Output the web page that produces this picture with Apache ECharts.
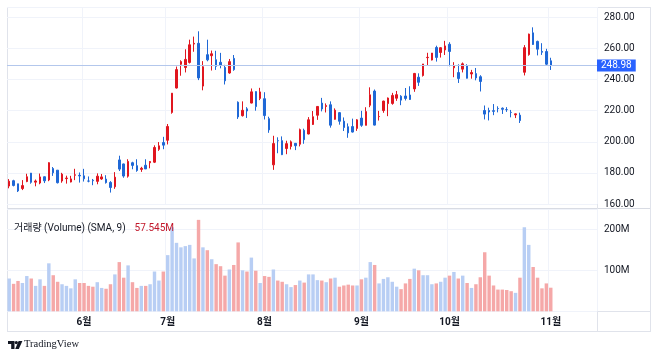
<!DOCTYPE html>
<html>
<head>
<meta charset="utf-8">
<script src="https://cdn.jsdelivr.net/npm/echarts@6/dist/echarts.min.js"></script>
<style>
html,body{margin:0;padding:0;background:#fff;}
#chart{width:658px;height:358px;}
</style>
</head>
<body>
<div id="chart"></div>
<script>
const dates = [
'2024-05-08','2024-05-09','2024-05-10','2024-05-13','2024-05-14','2024-05-15','2024-05-16','2024-05-17','2024-05-20','2024-05-21','2024-05-22','2024-05-23','2024-05-24','2024-05-28','2024-05-29','2024-05-30','2024-05-31',
'2024-06-03','2024-06-04','2024-06-05','2024-06-06','2024-06-07','2024-06-10','2024-06-11','2024-06-12','2024-06-13','2024-06-14','2024-06-17','2024-06-18','2024-06-20','2024-06-21','2024-06-24','2024-06-25','2024-06-26','2024-06-27','2024-06-28',
'2024-07-01','2024-07-02','2024-07-03','2024-07-05','2024-07-08','2024-07-09','2024-07-10','2024-07-11','2024-07-12','2024-07-15','2024-07-16','2024-07-17','2024-07-18','2024-07-19','2024-07-22','2024-07-23','2024-07-24','2024-07-25','2024-07-26','2024-07-29','2024-07-30','2024-07-31',
'2024-08-01','2024-08-02','2024-08-05','2024-08-06','2024-08-07','2024-08-08','2024-08-09','2024-08-12','2024-08-13','2024-08-14','2024-08-15','2024-08-16','2024-08-19','2024-08-20','2024-08-21','2024-08-22','2024-08-23','2024-08-26','2024-08-27','2024-08-28','2024-08-29','2024-08-30',
'2024-09-03','2024-09-04','2024-09-05','2024-09-06','2024-09-09','2024-09-10','2024-09-11','2024-09-12','2024-09-13','2024-09-16','2024-09-17','2024-09-18','2024-09-19','2024-09-20','2024-09-23','2024-09-24','2024-09-25','2024-09-26','2024-09-27','2024-09-30',
'2024-10-01','2024-10-02','2024-10-03','2024-10-04','2024-10-07','2024-10-08','2024-10-09','2024-10-10','2024-10-11','2024-10-14','2024-10-15','2024-10-16','2024-10-17','2024-10-18','2024-10-21','2024-10-22','2024-10-23','2024-10-24','2024-10-25','2024-10-28','2024-10-29','2024-10-30','2024-10-31',
'2024-11-01'
];
const opens = [
171.59,175.01,173.05,170.00,174.50,179.90,174.10,173.55,177.56,175.51,182.85,181.80,174.84,176.40,174.19,178.58,178.50,
178.13,174.78,175.35,174.60,176.13,176.06,173.92,171.12,188.39,185.80,177.92,186.56,184.68,182.30,184.97,186.54,186.92,195.17,199.55,
201.02,218.89,234.56,249.81,247.71,251.00,262.80,263.30,235.80,255.97,255.31,252.73,251.09,247.79,244.21,253.60,225.42,216.80,221.19,224.90,232.25,227.90,
227.69,214.88,185.22,200.75,200.77,195.70,197.05,199.02,198.47,207.39,205.02,211.15,217.07,224.88,222.67,223.82,214.46,218.75,213.25,209.72,209.80,208.63,
215.26,210.59,223.49,232.60,216.20,220.07,224.55,224.66,228.00,229.30,229.45,230.09,234.00,241.52,242.61,254.08,252.54,260.60,257.38,259.04,
262.67,247.55,244.48,246.69,249.00,243.56,243.82,241.81,220.13,220.13,220.01,221.40,221.59,220.71,218.90,217.31,217.13,244.68,256.01,270.00,264.51,258.04,257.99,
252.04
];
const highs = [
176.06,175.62,173.06,175.40,179.49,180.00,175.79,179.63,177.75,186.88,183.80,181.90,180.08,178.25,178.15,182.67,180.32,
182.64,177.76,176.15,179.73,179.35,178.57,174.75,180.55,191.08,186.00,188.81,187.20,188.80,183.95,188.80,187.60,197.76,199.84,203.20,
211.45,231.30,248.35,252.37,259.44,265.61,267.59,271.00,251.84,265.60,258.62,258.47,257.14,249.44,253.21,255.76,225.99,226.00,222.28,234.27,232.41,234.68,
231.87,216.13,203.88,202.90,203.49,200.70,200.88,199.26,208.49,208.44,215.88,219.80,222.98,228.22,224.66,225.99,221.48,219.09,215.66,211.84,214.89,214.57,
219.90,222.22,235.00,233.60,219.87,226.40,228.47,231.45,232.67,229.96,234.57,235.68,244.24,243.99,250.00,257.19,257.05,261.75,260.70,264.86,
263.98,251.16,249.79,250.96,249.83,246.21,247.43,242.79,223.34,221.91,224.26,222.82,222.08,222.28,220.48,218.22,218.72,262.12,269.49,273.54,264.98,263.35,259.75,
254.00
];
const lows = [
170.15,171.37,167.75,169.00,174.07,173.11,171.43,172.75,173.52,174.71,178.12,173.26,173.73,173.16,173.93,175.38,173.82,
174.49,174.00,172.13,172.73,175.58,173.17,167.41,169.80,181.23,176.92,177.00,182.37,180.76,180.69,182.55,182.99,186.36,194.20,195.26,
198.32,218.06,234.25,242.46,244.57,250.30,257.86,239.65,233.09,251.73,245.80,246.18,247.20,236.83,243.75,245.63,214.71,216.23,215.33,224.70,220.00,226.79,
214.33,205.78,182.00,192.67,191.48,192.04,195.11,194.67,197.06,198.75,204.82,210.80,214.09,219.56,218.86,209.11,214.21,211.01,206.94,202.59,205.97,207.03,
209.64,210.57,222.25,210.51,213.67,218.64,216.48,223.83,226.32,223.53,226.55,226.88,232.13,235.92,241.92,249.05,252.28,251.53,254.12,255.77,
248.53,241.50,237.81,244.58,240.70,240.56,239.51,232.34,214.38,213.74,217.12,218.93,217.90,219.23,215.73,215.26,212.11,242.65,255.32,262.24,255.51,255.82,249.25,
246.16
];
const closes = [
174.72,171.97,168.47,171.89,177.55,173.99,174.84,177.46,174.95,186.60,180.11,173.74,179.24,176.75,176.19,178.79,178.08,
176.29,174.77,175.00,177.94,177.48,173.79,170.66,177.29,182.47,178.01,187.44,184.86,181.57,183.01,182.58,187.35,196.37,197.42,197.88,
209.86,231.26,246.39,251.52,252.94,262.33,263.26,241.03,248.23,252.64,256.56,248.50,249.23,239.20,251.51,246.38,215.99,220.25,219.80,232.10,222.62,232.07,
216.86,207.67,198.88,200.64,191.76,198.84,200.00,197.49,207.83,201.38,214.14,216.12,222.72,221.10,223.27,210.66,220.32,213.21,209.21,205.75,206.28,214.11,
210.60,219.41,230.17,210.73,216.27,226.17,228.13,229.81,230.29,226.78,227.87,227.20,243.92,238.25,250.00,254.27,257.02,254.22,260.46,261.63,
258.02,249.02,240.66,250.08,240.83,244.50,241.05,238.77,217.80,219.16,219.57,221.33,220.89,220.70,218.85,217.97,213.65,260.48,269.19,262.51,259.52,257.55,249.85,
248.98
];
// volume in millions
const volumes = [
80,67,74,69,86,80,62,78,62,117,88,72,66,62,56,78,69,
69,62,60,71,57,55,66,90,120,82,112,71,57,62,62,66,97,75,97,
137,205,167,156,159,162,129,223,156,149,127,115,110,87,102,113,168,100,97,131,99,69,
86,84,102,75,72,66,59,64,75,70,90,90,76,75,71,80,82,60,63,65,63,63,
78,82,120,113,68,79,83,72,60,54,68,79,104,100,88,88,66,68,72,82,
87,96,80,87,69,57,66,83,144,87,63,53,53,52,49,45,82,205,162,108,82,56,68,
57.545
];
const priceTicks = [160,180,200,220,240,260,280];
const volumeTicks = [100,200];
const lastPrice = 248.98;
const lastVolume = 57.545;
const padBars = 10;

const categories = dates.concat(Array.from({length: padBars}, (_, k) => 'pad' + k));
const monthStart = new Set();
dates.forEach((d, i) => { if (i > 0 && d.slice(5,7) !== dates[i-1].slice(5,7)) monthStart.add(i); });
const candleData = dates.map((d, i) => [opens[i], closes[i], lows[i], highs[i]]);
const UP = '#e0161f', DOWN = '#1f68d6';
const VOL_UP = '#b8cef4', VOL_DOWN = '#f5a8a8';
const volData = volumes.map((v, i) => ({
  value: v,
  itemStyle: { color: closes[i] >= opens[i] ? VOL_UP : VOL_DOWN }
}));

const FONT = "Roboto, 'Noto Sans CJK KR', sans-serif";
const TXT = '#131722';
const GRID = '#f0f3fa';
const BORDER = '#e0e3eb';
const L = 7, R = 658 - 597;

const chart = echarts.init(document.getElementById('chart'), null, {renderer: 'canvas'});

function hline(y, x1, x2, c) { return {type:'line', silent:true, shape:{x1:x1, y1:y, x2:x2, y2:y}, style:{stroke:c||BORDER, lineWidth:1}}; }
function vline(x, y1, y2, c) { return {type:'line', silent:true, shape:{x1:x, y1:y1, x2:x, y2:y2}, style:{stroke:c||BORDER, lineWidth:1}}; }

const option = {
  animation: false,
  backgroundColor: '#ffffff',
  textStyle: { fontFamily: FONT },
  title: {
    left: 9, top: 215,
    text: '{a|거래량 (Volume) (SMA, 9)}  {b|57.545M}',
    textStyle: {
      fontWeight: 'normal',
      rich: {
        a: { color: TXT, fontSize: 10, fontFamily: FONT, fontWeight: 'normal' },
        b: { color: '#c2182b', fontSize: 10, fontFamily: FONT, fontWeight: 'normal' }
      }
    }
  },
  grid: [
    { left: L, right: R, top: 7, height: 197.1, containLabel: false },
    { left: L, right: R, top: 209, bottom: 46.7, containLabel: false }
  ],
  xAxis: [
    {
      type: 'category', gridIndex: 0, data: categories, boundaryGap: true,
      axisLine: { show: false }, axisTick: { show: false }, axisLabel: { show: false },
      splitLine: { show: true, interval: (i) => monthStart.has(i), lineStyle: { color: GRID, width: 1 } }
    },
    {
      type: 'category', gridIndex: 1, data: categories, boundaryGap: true,
      axisLine: { show: false }, axisTick: { show: false },
      splitLine: { show: true, interval: (i) => monthStart.has(i), lineStyle: { color: GRID, width: 1 } },
      axisLabel: {
        show: true, interval: (i) => monthStart.has(i), margin: 6,
        color: TXT, fontSize: 10, fontWeight: 'bold', fontFamily: FONT,
        formatter: (v) => parseInt(v.slice(5,7), 10) + '월'
      }
    }
  ],
  yAxis: [
    {
      type: 'value', gridIndex: 0, position: 'right', min: 160, max: 286.6, interval: 20,
      axisLine: { show: false }, axisTick: { show: false },
      splitLine: { show: true, lineStyle: { color: GRID, width: 1 } },
      axisLabel: {
        show: true, margin: 7, color: TXT, fontSize: 10, fontFamily: FONT,
        formatter: (v) => priceTicks.indexOf(Math.round(v*100)/100) >= 0 ? v.toFixed(2) : ''
      }
    },
    {
      type: 'value', gridIndex: 1, position: 'right', min: 0, max: 249.5, interval: 100,
      axisLine: { show: false }, axisTick: { show: false },
      splitLine: { show: true, lineStyle: { color: GRID, width: 1 } },
      axisLabel: {
        show: true, margin: 7, color: TXT, fontSize: 10, fontFamily: FONT,
        formatter: (v) => volumeTicks.indexOf(v) >= 0 ? v + 'M' : ''
      }
    }
  ],
  series: [
    {
      type: 'candlestick', xAxisIndex: 0, yAxisIndex: 0, data: candleData,
      barWidth: 2,
      itemStyle: { color: UP, color0: DOWN, borderColor: UP, borderColor0: DOWN, borderWidth: 1 },
      markLine: {
        silent: true, symbol: ['none','none'], animation: false,
        data: [{ yAxis: lastPrice }],
        lineStyle: { type: 'solid', color: '#b3c7ec', width: 1, opacity: 1 },
        label: {
          show: true, position: 'end', distance: 0,
          formatter: lastPrice.toFixed(2),
          backgroundColor: '#2962ff', color: '#ffffff', padding: [1, 4, 1, 4],
          fontSize: 10, fontFamily: FONT
        }
      }
    },
    {
      type: 'bar', xAxisIndex: 1, yAxisIndex: 1, data: volData,
      barWidth: '78%', clip: false,
      markLine: {
        silent: true, symbol: ['none','none'], animation: false,
        data: [{ yAxis: lastVolume }],
        lineStyle: { width: 0, opacity: 0 },
        label: {
          show: true, position: 'end', distance: 1,
          formatter: lastVolume.toFixed(3) + 'M',
          backgroundColor: '#f0000f', color: '#ffffff', padding: [1, 3, 1, 3],
          fontSize: 10, fontFamily: FONT
        }
      }
    }
  ],
  graphic: [
    hline(7.5, 7, 651), hline(208.5, 7, 651, '#d8dbe3'), hline(311.5, 7, 651), hline(331.5, 7, 651),
    vline(7.5, 7, 332), vline(597.5, 7, 332), vline(650.5, 7, 332),
    { type: 'polygon', silent: true, shape: { points: [[8,341],[14.5,341],[14.5,349],[11.2,349],[11.2,344],[8,344]] }, style: { fill: TXT } },
    { type: 'circle', silent: true, shape: { cx: 16.3, cy: 342.6, r: 1.6 }, style: { fill: TXT } },
    { type: 'polygon', silent: true, shape: { points: [[18.6,341],[22.4,341],[18.8,349],[15.2,349]] }, style: { fill: TXT } },
    { type: 'text', silent: true, left: 24, top: 339, style: { text: 'TradingView', fill: TXT, font: "10.5px 'Liberation Serif', serif" } }
  ]
};
chart.setOption(option);
</script>
</body>
</html>
